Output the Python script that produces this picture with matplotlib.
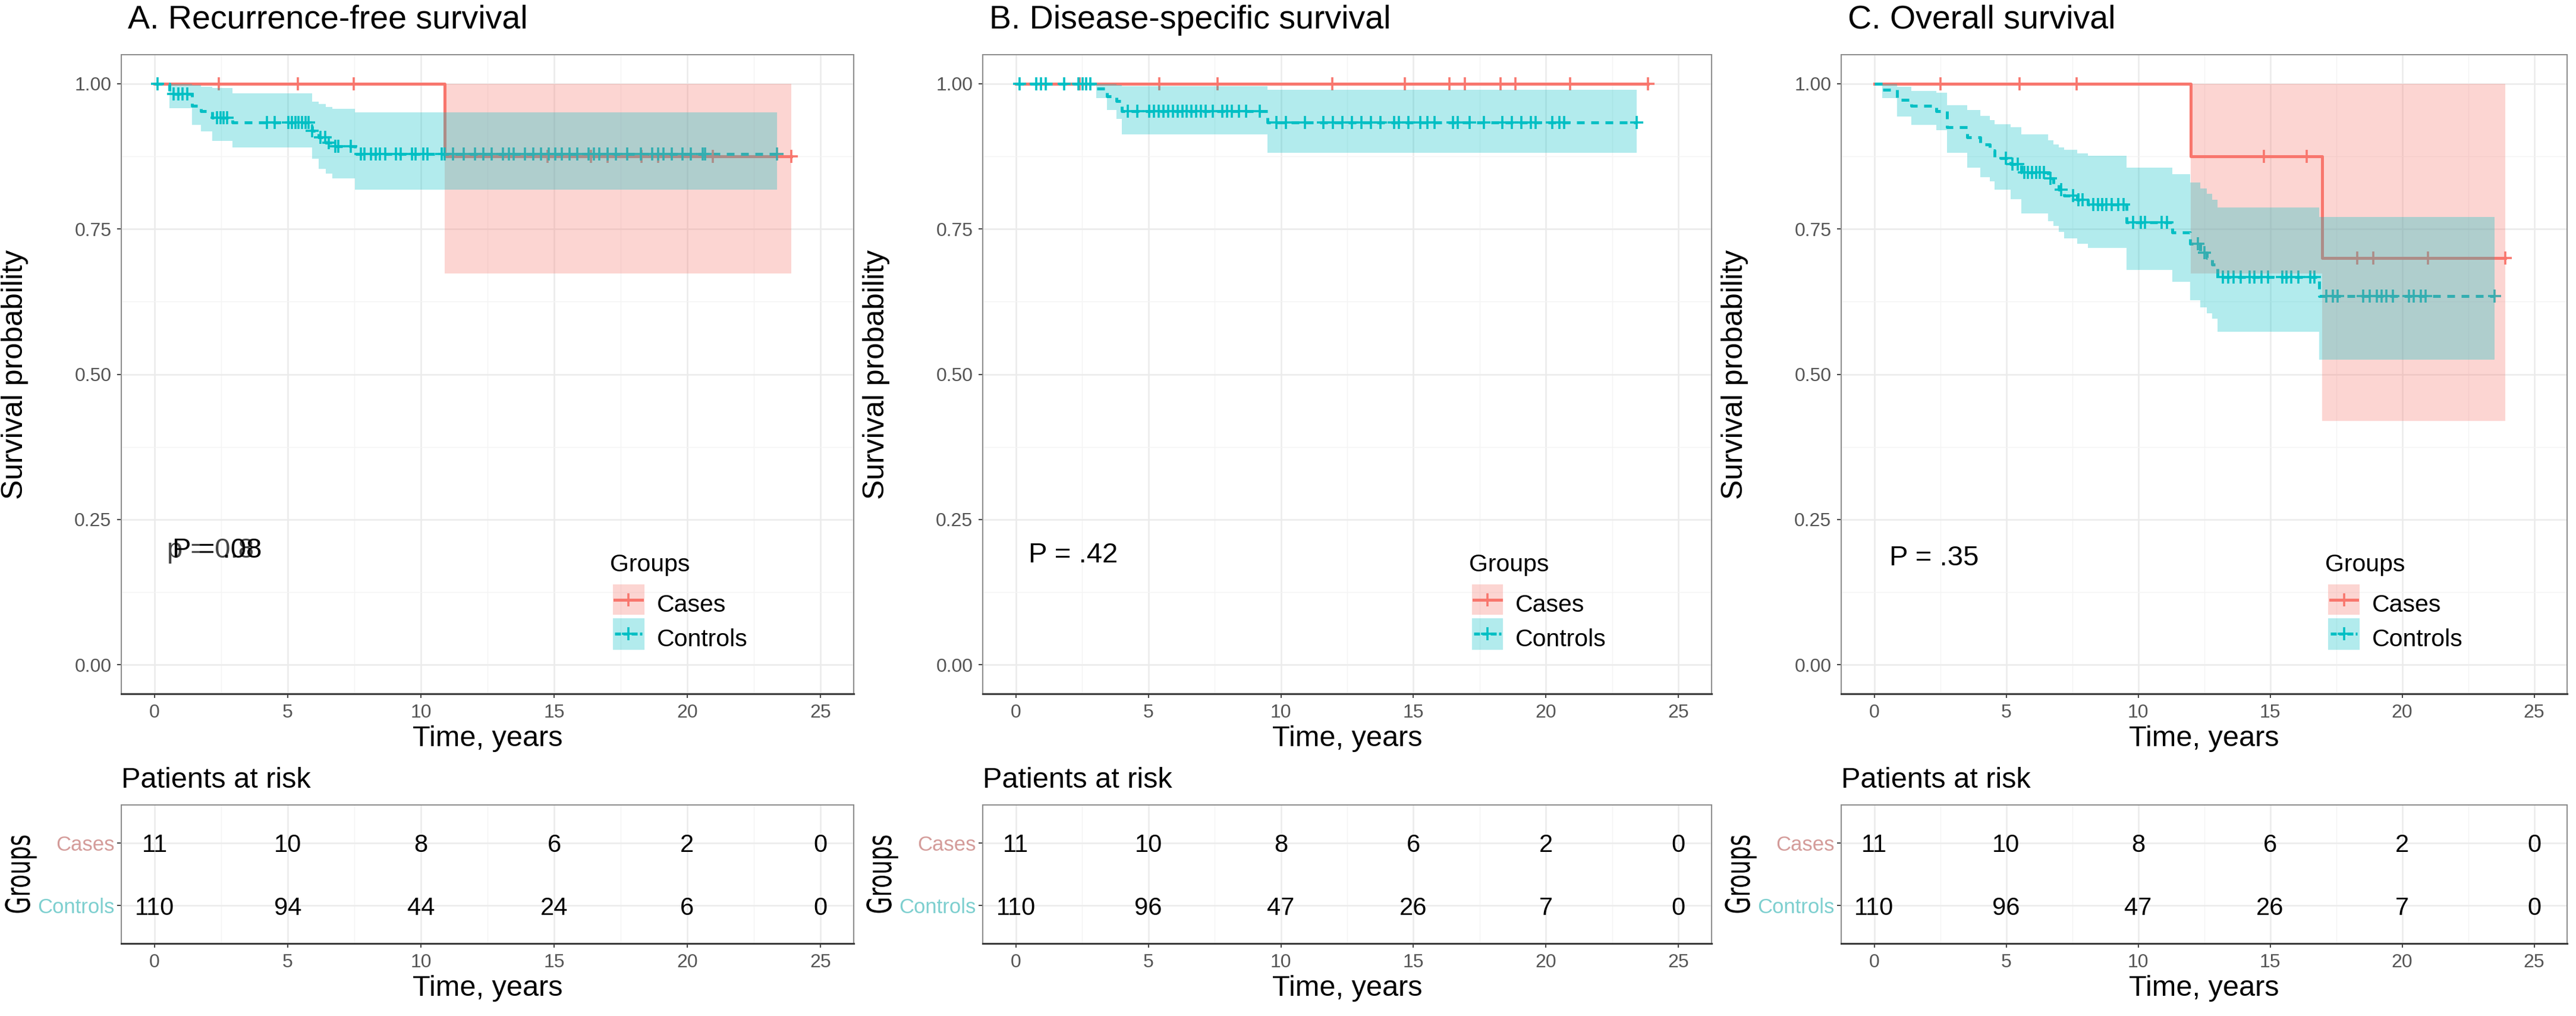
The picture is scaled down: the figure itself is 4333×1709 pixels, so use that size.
import numpy as np
import matplotlib
matplotlib.use('Agg')
import matplotlib.pyplot as plt
from matplotlib.patches import Rectangle, PathPatch
from matplotlib.textpath import TextPath
from matplotlib.font_manager import FontProperties
from matplotlib.transforms import Affine2D, blended_transform_factory

plt.rcParams['font.family'] = ['Liberation Sans', 'DejaVu Sans']

W, H, DPI = 4333, 1709, 100
CASE_COL = '#F8766D'
CTRL_COL = '#00BFC4'

# ---- A. Recurrence-free survival ----
a_case_t = [0.0, 10.9]
a_case_s = [1.0, 0.875]
a_case_lo = [1.0, 0.673]
a_case_hi = [1.0, 1.0]
a_case_end = 23.9
a_case_cens = [2.40, 5.37, 7.48, 14.76, 16.39, 17.0, 18.29, 18.91, 20.97, 23.9]

a_ctrl_t = [0.0, 0.55, 1.40, 1.74, 2.17, 2.93, 5.92, 6.15, 6.43, 6.68, 7.53]
a_ctrl_s = [1.0, 0.982, 0.962, 0.9525, 0.942, 0.933, 0.919, 0.908, 0.899, 0.892, 0.879]
a_ctrl_lo = [1.0, 0.958, 0.929, 0.918, 0.902, 0.890, 0.871, 0.854, 0.845, 0.837, 0.818]
a_ctrl_hi = [1.0, 1.0, 0.998, 0.995, 0.993, 0.984, 0.969, 0.965, 0.960, 0.957, 0.9505]
a_ctrl_end = 23.37
a_ctrl_cens = [0.12, 0.72, 0.89, 1.06, 1.23, 2.34, 2.47, 2.59, 2.72, 4.21, 4.51,
               5.02, 5.15, 5.28, 5.41, 5.54, 5.66, 5.79, 5.92, 6.22, 6.40, 6.55,
               6.78, 6.90, 7.37, 7.75, 7.88, 8.13, 8.30, 8.47, 8.65, 9.07, 9.25,
               9.67, 9.80, 10.09, 10.25, 10.78, 10.90, 11.20, 11.60, 12.03, 12.34,
               12.66, 13.07, 13.30, 13.48, 13.90, 14.21, 14.52, 14.80, 15.05,
               15.30, 15.57, 15.88, 16.30, 16.50, 16.70, 17.02, 17.33, 17.75,
               18.27, 18.69, 18.90, 19.10, 19.42, 19.83, 20.14, 20.57, 20.67, 23.37]

# ---- B. Disease-specific survival ----
b_case_t = [0.0]
b_case_s = [1.0]
b_case_lo = [1.0]
b_case_hi = [1.0]
b_case_end = 23.84
b_case_cens = [2.40, 5.42, 7.61, 11.93, 14.67, 16.36, 16.95, 18.28, 18.85, 20.91, 23.84]

b_ctrl_t = [0.0, 3.04, 3.43, 3.79, 4.0, 9.5]
b_ctrl_s = [1.0, 0.992, 0.9785, 0.970, 0.953, 0.933]
b_ctrl_lo = [1.0, 0.975, 0.955, 0.939, 0.9126, 0.881]
b_ctrl_hi = [1.0, 1.0, 1.0, 0.998, 0.996, 0.990]
b_ctrl_end = 23.43
b_ctrl_cens = [0.14, 0.76, 0.94, 1.12, 1.83, 2.36, 2.51, 2.65, 2.81, 4.23, 4.59,
               5.03, 5.21, 5.39, 5.57, 5.74, 5.92, 6.10, 6.28, 6.45, 6.63, 6.81,
               6.99, 7.17, 7.43, 7.79, 7.97, 8.14, 8.41, 8.68, 9.21, 9.83, 10.19,
               10.90, 11.61, 11.97, 12.32, 12.68, 13.03, 13.39, 13.75, 14.28,
               14.46, 14.81, 15.26, 15.52, 15.79, 16.50, 16.68, 17.12, 17.65,
               18.36, 18.72, 19.08, 19.43, 19.61, 20.23, 20.50, 20.68, 23.43]

# ---- C. Overall survival ----
c_case_t = [0.0, 12.0, 16.98]
c_case_s = [1.0, 0.875, 0.70]
c_case_lo = [1.0, 0.673, 0.42]
c_case_hi = [1.0, 1.0, 1.0]
c_case_end = 23.91
c_case_cens = [2.50, 5.50, 7.67, 14.76, 16.39, 18.29, 18.91, 20.97, 23.91]

c_ctrl_t = [0.0, 0.30, 0.86, 1.41, 2.36, 2.77, 3.52, 4.02, 4.37, 4.57, 5.18, 5.58,
            6.58, 6.78, 6.99, 7.19, 7.69, 8.09, 9.55, 11.30, 11.96, 12.36, 12.61,
            12.81, 13.01, 16.86]
c_ctrl_s = [1.0, 0.990, 0.972, 0.962, 0.953, 0.925, 0.908, 0.895, 0.885, 0.872,
            0.862, 0.847, 0.837, 0.826, 0.818, 0.807, 0.800, 0.792, 0.761, 0.744,
            0.725, 0.709, 0.700, 0.689, 0.667, 0.635]
c_ctrl_lo = [1.0, 0.975, 0.944, 0.929, 0.920, 0.881, 0.856, 0.839, 0.832, 0.818,
             0.801, 0.777, 0.763, 0.755, 0.745, 0.734, 0.725, 0.717, 0.680, 0.659,
             0.627, 0.615, 0.605, 0.596, 0.573, 0.525]
c_ctrl_hi = [1.0, 1.0, 0.995, 0.988, 0.985, 0.963, 0.955, 0.945, 0.937, 0.930,
             0.925, 0.913, 0.903, 0.895, 0.890, 0.886, 0.880, 0.876, 0.856, 0.844,
             0.830, 0.820, 0.811, 0.800, 0.7875, 0.771]
c_ctrl_end = 23.51
c_ctrl_cens = [4.98, 5.23, 5.43, 5.68, 5.83, 5.98, 6.13, 6.28, 6.43, 6.68, 7.09,
               7.54, 7.74, 7.89, 8.29, 8.49, 8.64, 8.79, 8.99, 9.24, 9.45, 9.80,
               10.10, 10.25, 10.90, 11.10, 12.26, 12.51, 13.21, 13.41, 13.62,
               13.88, 14.23, 14.41, 14.67, 14.93, 15.46, 15.63, 15.81, 16.07,
               16.51, 16.68, 17.12, 17.38, 17.56, 18.52, 18.78, 19.05, 19.22,
               19.40, 19.66, 20.27, 20.45, 20.71, 20.89, 23.51]

# ---- numbers at risk ----
risk_times = [0, 5, 10, 15, 20, 25]
a_risk_cases = [11, 10, 8, 6, 2, 0]
a_risk_ctrl = [110, 94, 44, 24, 6, 0]
b_risk_cases = [11, 10, 8, 6, 2, 0]
b_risk_ctrl = [110, 96, 47, 26, 7, 0]
c_risk_cases = [11, 10, 8, 6, 2, 0]
c_risk_ctrl = [110, 96, 47, 26, 7, 0]

titles = ['A. Recurrence-free survival', 'B. Disease-specific survival',
          'C. Overall survival']
group_names = ['Cases', 'Controls']

panels = [
    dict(case=(a_case_t, a_case_s, a_case_lo, a_case_hi, a_case_end, a_case_cens),
         ctrl=(a_ctrl_t, a_ctrl_s, a_ctrl_lo, a_ctrl_hi, a_ctrl_end, a_ctrl_cens),
         risk=(a_risk_cases, a_risk_ctrl), pval='P = .08', pval_x=0.67, pval_y=0.184,
         ghost='p = 0.8', ghost_x=0.47),
    dict(case=(b_case_t, b_case_s, b_case_lo, b_case_hi, b_case_end, b_case_cens),
         ctrl=(b_ctrl_t, b_ctrl_s, b_ctrl_lo, b_ctrl_hi, b_ctrl_end, b_ctrl_cens),
         risk=(b_risk_cases, b_risk_ctrl), pval='P = .42', pval_x=0.47, pval_y=0.176),
    dict(case=(c_case_t, c_case_s, c_case_lo, c_case_hi, c_case_end, c_case_cens),
         ctrl=(c_ctrl_t, c_ctrl_s, c_ctrl_lo, c_ctrl_hi, c_ctrl_end, c_ctrl_cens),
         risk=(c_risk_cases, c_risk_ctrl), pval='P = .35', pval_x=0.58, pval_y=0.171),
]

panel_x = [(204, 1436), (1653, 2879), (3097, 4318)]
main_y = (92, 1167)
risk_y = (1354, 1587)

LW = 3.6
DASH = (0, (2.6, 2.2))


def rect(x0, y0, x1, y1):
    return [x0 / W, 1 - y1 / H, (x1 - x0) / W, (y1 - y0) / H]


def fx(x):
    return x / W


def fy(y):
    return 1 - y / H


def style_axes(ax):
    ax.set_xlim(-1.25, 26.25)
    ax.set_xticks(risk_times)
    ax.set_xticks([2.5, 7.5, 12.5, 17.5, 22.5], minor=True)
    ax.grid(which='major', color='#ebebeb', lw=1.8)
    ax.grid(which='minor', color='#f4f4f4', lw=1.0)
    ax.set_axisbelow(True)
    ax.tick_params(which='major', length=5, width=1.3, color='#333333',
                   labelsize=23, labelcolor='#555555', pad=7)
    ax.tick_params(which='minor', length=0)
    for side in ['top', 'right', 'left']:
        ax.spines[side].set_color('#8a8a8a')
        ax.spines[side].set_linewidth(1.4)
    ax.spines['bottom'].set_color('#3a3a3a')
    ax.spines['bottom'].set_linewidth(2.2)


def draw_group(ax, data, color, dashed):
    t, s, lo, hi, end, cens = data
    xs = list(t) + [end]
    ax.step(xs, list(s) + [s[-1]], where='post', color=color, lw=LW,
            ls=DASH if dashed else '-', zorder=2)
    idx = np.searchsorted(t, cens, side='right') - 1
    ax.plot(cens, np.asarray(s)[idx], ls='none', marker='+', ms=16, mew=2.6,
            color=color, zorder=2.2)
    ax.fill_between(xs, list(lo) + [lo[-1]], list(hi) + [hi[-1]], step='post',
                    color=color, alpha=0.3, lw=0, zorder=3)


def fat_rotated_label(fig, text, cx, cy, length_px, hscale):
    tp = TextPath((0, 0), text, size=100, prop=FontProperties(family='DejaVu Sans'))
    k = length_px / tp.get_extents().width
    tr = Affine2D().scale(k, k * hscale).rotate_deg(90)
    ext = tp.get_extents(tr)
    tr.translate(cx - (ext.x0 + ext.x1) / 2, (H - cy) - (ext.y0 + ext.y1) / 2)
    patch = PathPatch(tp, transform=tr, color='black', lw=0)
    fig.add_artist(patch)


fig = plt.figure(figsize=(W / DPI, H / DPI), dpi=DPI)

for i, p in enumerate(panels):
    x0, x1 = panel_x[i]

    # survival curves
    ax = fig.add_axes(rect(x0, main_y[0], x1, main_y[1]))
    style_axes(ax)
    ax.set_ylim(-0.05, 1.05)
    ax.set_yticks([0, 0.25, 0.5, 0.75, 1.0])
    ax.set_yticklabels(['0.00', '0.25', '0.50', '0.75', '1.00'])
    ax.set_yticks([0.125, 0.375, 0.625, 0.875], minor=True)
    draw_group(ax, p['case'], CASE_COL, False)
    draw_group(ax, p['ctrl'], CTRL_COL, True)

    if 'ghost' in p:
        ax.text(p['ghost_x'], p['pval_y'], p['ghost'], fontsize=34, color='#444444',
                va='baseline', ha='left', zorder=4)
    ax.text(p['pval_x'], p['pval_y'], p['pval'], fontsize=34, color='black',
            va='baseline', ha='left', zorder=5)

    # legend
    tb = blended_transform_factory(ax.transAxes, ax.transData)
    ax.text(0.667, 0.161, 'Groups', transform=tb, fontsize=29.5, va='baseline', ha='left')
    for col, (ylo, yhi), name, dashed in [(CASE_COL, (0.086, 0.138), 'Cases', False),
                                           (CTRL_COL, (0.026, 0.080), 'Controls', True)]:
        ax.add_patch(Rectangle((0.671, ylo), 0.043, yhi - ylo, transform=tb,
                               facecolor=col, alpha=0.3, lw=0, zorder=5))
        ym = (ylo + yhi) / 2
        ax.plot([0.674, 0.711], [ym, ym], transform=tb, color=col, lw=LW, zorder=6,
                ls=(0, (2.0, 0.8)) if dashed else '-', clip_on=False)
        ax.plot([0.6925], [ym], transform=tb, marker='+', ms=16, mew=2.6, color=col,
                zorder=6, clip_on=False)
        ax.text(0.731, ym - 0.021, name, transform=tb, fontsize=29.5, va='baseline',
                ha='left', zorder=6)

    fig.text(fx(x0 + 11), fy(48), titles[i], fontsize=40, va='baseline', ha='left')
    fig.text(fx(x0 - 179), fy((main_y[0] + main_y[1]) / 2), 'Survival probability',
             fontsize=36, rotation=90, va='center', ha='center')
    fig.text(fx((x0 + x1) / 2), fy(1255), 'Time, years', fontsize=35,
             va='baseline', ha='center')

    # risk table
    rx = fig.add_axes(rect(x0, risk_y[0], x1, risk_y[1]))
    style_axes(rx)
    rx.set_ylim(0.4, 2.6)
    rx.set_yticks([2, 1])
    rx.set_yticklabels(group_names, fontsize=25)
    for lbl, col in zip(rx.get_yticklabels(), ['#d49c9a', '#7dcfcf']):
        lbl.set_color(col)
    rx.tick_params(axis='y', pad=3)
    cases_n, ctrl_n = p['risk']
    for t, n in zip(risk_times, cases_n):
        rx.text(t, 2, str(n), ha='center', va='center_baseline', fontsize=30)
    for t, n in zip(risk_times, ctrl_n):
        rx.text(t, 1, str(n), ha='center', va='center_baseline', fontsize=30)

    fig.text(fx(x0), fy(1325), 'Patients at risk', fontsize=35, va='baseline', ha='left')
    fig.text(fx((x0 + x1) / 2), fy(1675), 'Time, years', fontsize=35,
             va='baseline', ha='center')
    fat_rotated_label(fig, 'Groups', x0 - 169, (risk_y[0] + risk_y[1]) / 2, 130, 1.5)

fig.savefig('out.png', dpi=DPI, facecolor='white')
